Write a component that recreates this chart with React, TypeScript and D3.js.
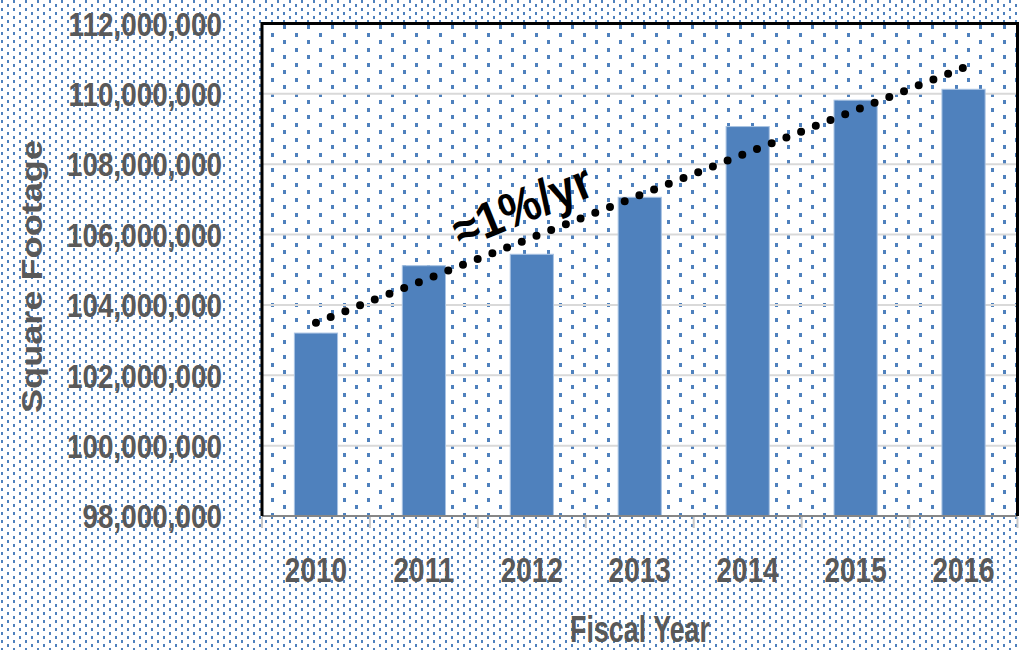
import React from "react";
import * as d3 from "d3";

const years = ["2010", "2011", "2012", "2013", "2014", "2015", "2016"];
const squareFootage = [103200000, 105115000, 105440000, 107060000, 109070000, 109820000, 110130000];
const yTickValues = [98000000, 100000000, 102000000, 104000000, 106000000, 108000000, 110000000, 112000000];
const trendLabel = "≈1%/yr";
const xTitle = "Fiscal Year";
const yTitle = "Square Footage";

const W = 1019;
const H = 650;
const plotLeft = 262;
const plotRight = 1017.5;
const plotTop = 23.5;
const plotBottom = 516;
const FONT = "'Liberation Sans', Arial, sans-serif";
const TEXT = "#595959";
const BLUE = "#4F81BD";

export default function App() {
  const x = d3.scaleBand<string>().domain(years).range([plotLeft, plotRight]).padding(0);
  const y = d3.scaleLinear().domain([98000000, 112000000]).range([plotBottom, plotTop]);
  const bw = x.bandwidth();
  const barW = bw * 0.4;
  const fmt = d3.format(",");

  // linear regression trendline (as in spreadsheet trendline)
  const idx = years.map((_, i) => i);
  const mx = d3.mean(idx) as number;
  const my = d3.mean(squareFootage) as number;
  const slope =
    d3.sum(idx.map((i) => (i - mx) * (squareFootage[i] - my))) /
    d3.sum(idx.map((i) => (i - mx) * (i - mx)));
  const intercept = my - slope * mx;
  const trendPts: [number, number][] = idx.map((i) => [
    (x(years[i]) as number) + bw / 2,
    y(intercept + slope * i),
  ]);
  const trendLine = d3.line()([trendPts[0], trendPts[trendPts.length - 1]]) as string;

  return (
    <svg
      width={W}
      height={H}
      style={{ position: "absolute", left: 0, top: 0, display: "block" }}
      xmlns="http://www.w3.org/2000/svg"
    >
      <defs>
        <pattern id="outerDots" x="0" y="0" width="12" height="8" patternUnits="userSpaceOnUse">
          <rect width="12" height="8" fill="#ffffff" />
          <rect x="1" y="0" width="2" height="3" fill={BLUE} />
          <rect x="7" y="4" width="2" height="3" fill={BLUE} />
        </pattern>
        <pattern id="innerDots" x="0" y="0" width="24" height="15" patternUnits="userSpaceOnUse">
          <rect width="24" height="15" fill="#ffffff" />
          <rect x="7" y="3" width="3" height="4" fill={BLUE} />
          <rect x="19" y="10" width="3" height="4" fill={BLUE} />
        </pattern>
      </defs>

      <rect x={0} y={0} width={W} height={H} fill="url(#outerDots)" />
      <rect
        x={plotLeft}
        y={plotTop}
        width={plotRight - plotLeft}
        height={plotBottom - plotTop}
        fill="url(#innerDots)"
      />

      {/* gridlines */}
      {yTickValues.map((v) => (
        <line
          key={"g" + v}
          x1={plotLeft}
          x2={plotRight}
          y1={y(v)}
          y2={y(v)}
          stroke="#d9d9d9"
          strokeWidth={2}
        />
      ))}

      {/* bars */}
      {years.map((yr, i) => (
        <rect
          key={yr}
          x={(x(yr) as number) + (bw - barW) / 2}
          y={y(squareFootage[i])}
          width={barW}
          height={plotBottom - y(squareFootage[i])}
          fill={BLUE}
          stroke="#a9c3e3"
          strokeWidth={1}
        />
      ))}

      {/* x axis line and ticks */}
      <line x1={plotLeft} x2={plotRight} y1={plotBottom} y2={plotBottom} stroke="#868686" strokeWidth={2} />
      {years.concat(["end"]).map((yr, i) => {
        const xx = i < years.length ? (x(yr) as number) : plotRight;
        return (
          <line key={"t" + i} x1={xx} x2={xx} y1={plotBottom + 1} y2={plotBottom + 12} stroke="#c8c8c8" strokeWidth={2} />
        );
      })}

      {/* plot border */}
      <path
        d={`M${plotLeft},${plotBottom} L${plotLeft},${plotTop} L${plotRight},${plotTop} L${plotRight},${plotBottom}`}
        fill="none"
        stroke="#000000"
        strokeWidth={3}
      />

      {/* trendline */}
      <path
        d={trendLine}
        fill="none"
        stroke="#000000"
        strokeWidth={8}
        strokeLinecap="round"
        strokeDasharray="0 15.8"
      />

      {/* annotation */}
      <text
        transform="translate(522,205) rotate(-22)"
        textAnchor="middle"
        dy="0.36em"
        fontFamily={FONT}
        fontWeight="bold"
        fontSize={50}
        fill="#000000"
        textLength={146}
        lengthAdjust="spacingAndGlyphs"
      >
        {trendLabel}
      </text>

      {/* y tick labels */}
      {yTickValues.map((v) => (
        <text
          key={"l" + v}
          transform={`translate(222,${y(v)}) scale(0.82,1)`}
          dy="0.36em"
          textAnchor="end"
          fontFamily={FONT}
          fontWeight="bold"
          fontSize={34}
          fill={TEXT}
        >
          {fmt(v)}
        </text>
      ))}

      {/* x tick labels */}
      {years.map((yr) => (
        <text
          key={"x" + yr}
          transform={`translate(${(x(yr) as number) + bw / 2},582) scale(0.8,1)`}
          textAnchor="middle"
          fontFamily={FONT}
          fontWeight="bold"
          fontSize={35}
          fill={TEXT}
        >
          {yr}
        </text>
      ))}

      {/* axis titles */}
      <text
        x={640}
        y={642}
        textAnchor="middle"
        fontFamily={FONT}
        fontWeight="bold"
        fontSize={36}
        fill={TEXT}
        textLength={140}
        lengthAdjust="spacingAndGlyphs"
      >
        {xTitle}
      </text>
      <text
        transform="translate(42,276.5) rotate(-90)"
        textAnchor="middle"
        fontFamily={FONT}
        fontWeight="bold"
        fontSize={30}
        fill={TEXT}
        textLength={273}
        lengthAdjust="spacingAndGlyphs"
      >
        {yTitle}
      </text>
    </svg>
  );
}
